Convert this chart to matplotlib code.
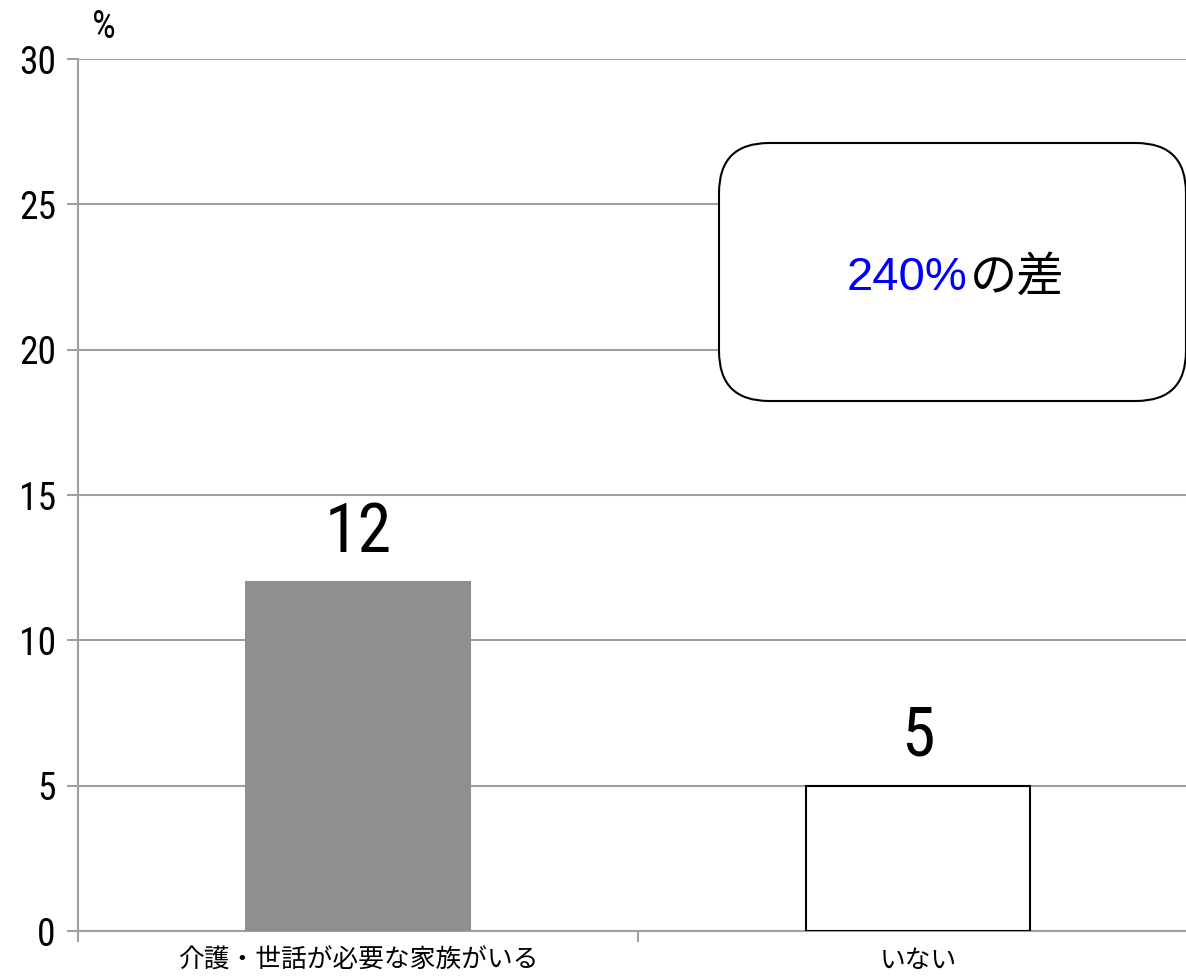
import matplotlib
matplotlib.use("Agg")
from matplotlib import pyplot as plt
from matplotlib.patches import FancyBboxPatch

categories = ["介護・世話が必要な家族がいる", "いない"]
values = [12, 5]
bar_colors = ["#8f8f8f", "white"]
yticks = [0, 5, 10, 15, 20, 25, 30]
note_value = "240%"
note_rest = "の差"

num_font = ["Roboto Condensed", "DejaVu Sans"]
jp_font = ["Noto Sans CJK JP", "DejaVu Sans"]

W, H = 1186, 977
fig = plt.figure(figsize=(W / 100, H / 100), dpi=100)
ax = fig.add_axes([78 / W, (H - 931) / H, 1120 / W, 872 / H])

grid = "#a0a0a0"
x = range(len(categories))
ax.bar(x, values, width=0.4, color=bar_colors, edgecolor=["#8f8f8f", "black"], linewidth=1.5, zorder=3)
ax.set_xlim(-0.5, 1.5)
ax.set_ylim(0, 30)
ax.set_yticks(yticks)
ax.set_yticklabels([str(t) for t in yticks], fontfamily=num_font, fontsize=27)
ax.yaxis.grid(True, color=grid, linewidth=1.5, zorder=0)
ax.set_xticks([-0.5, 0.5, 1.5])
ax.set_xticklabels([])
ax.set_xticks([0, 1], minor=True)
ax.set_xticklabels(categories, minor=True, fontfamily=jp_font, fontsize=18.5)
ax.tick_params(axis="x", which="minor", length=0, pad=12)
ax.tick_params(axis="x", which="major", length=8, color=grid, width=1.5)
ax.tick_params(axis="y", length=8, color=grid, width=1.5, pad=8)
for s in ["top", "right"]:
    ax.spines[s].set_visible(False)
for s in ["left", "bottom"]:
    ax.spines[s].set_color(grid)
    ax.spines[s].set_linewidth(1.5)

for xi, v in zip(x, values):
    ax.annotate(str(v), (xi, v), xytext=(0, 12), textcoords="offset points",
                ha="center", va="bottom", fontfamily=num_font, fontsize=49)

fig.text(104 / W, 1 - 28 / H, "%", ha="center", va="center", fontfamily=num_font, fontsize=27)

box = FancyBboxPatch((769 / W, 1 - 351 / H), 367 / W, 158 / H,
                     boxstyle="round,pad=0", transform=fig.transFigure,
                     facecolor="white", edgecolor="black", linewidth=1.5,
                     mutation_aspect=W / H, zorder=5)
box.set_boxstyle("round", pad=50 / W, rounding_size=50 / W)
fig.add_artist(box)
fig.text(967 / W, 1 - 278 / H, note_value, ha="right", va="center", color="#0000ff",
         fontfamily="Liberation Sans", fontsize=34, zorder=6)
fig.text(970 / W, 1 - 278 / H, note_rest, ha="left", va="center", color="black",
         fontfamily=jp_font, fontsize=34, zorder=6)

fig.savefig("out.png", dpi=100)
plt.close()
